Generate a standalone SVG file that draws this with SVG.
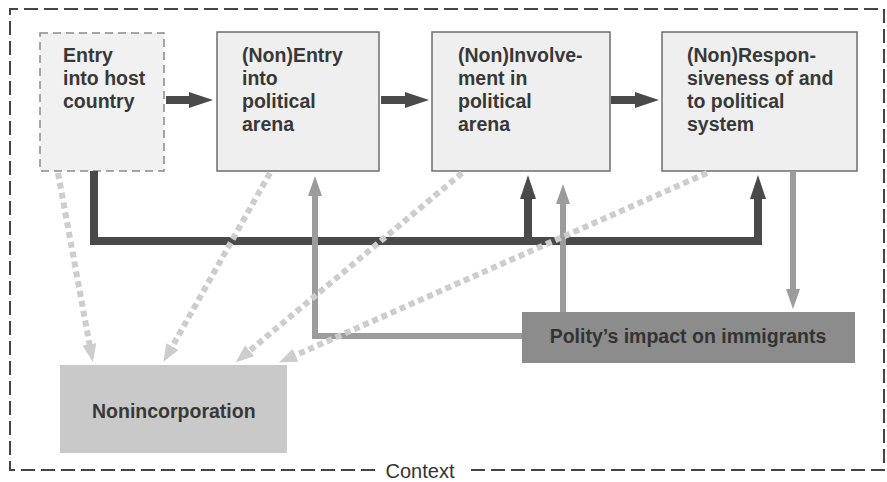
<svg xmlns="http://www.w3.org/2000/svg" width="887" height="482" viewBox="0 0 887 482">
<style>
.box{fill:#efefef;stroke:#6e6e6e;stroke-width:1.5}
.dbox{fill:#f1f1f1;stroke:#8a8a8a;stroke-width:1.5;stroke-dasharray:8 5}
.t{font-family:"Liberation Sans",Arial,sans-serif;font-weight:bold;font-size:19.5px;fill:#383838}
.ctx{font-family:"Liberation Sans",Arial,sans-serif;font-size:20px;fill:#333}
.dark{fill:none;stroke:#4a4a4a;stroke-width:8}
.mid{fill:none;stroke:#9c9c9c;stroke-width:6}
.light{fill:none;stroke:#cdcdcd;stroke-width:6;stroke-dasharray:6 4}
</style>
<defs>
<marker id="aDark" viewBox="0 0 24 16" markerWidth="24" markerHeight="16" refX="1" refY="8" orient="auto" markerUnits="userSpaceOnUse"><path d="M0,0 L24,8 L0,16 Z" fill="#4a4a4a"/></marker>
<marker id="aMid" viewBox="0 0 20 14" markerWidth="20" markerHeight="14" refX="1" refY="7" orient="auto" markerUnits="userSpaceOnUse"><path d="M0,0 L20,7 L0,14 Z" fill="#9c9c9c"/></marker>
<marker id="aLight" viewBox="0 0 18 14" markerWidth="18" markerHeight="14" refX="1" refY="7" orient="auto" markerUnits="userSpaceOnUse"><path d="M0,0 L18,7 L0,14 Z" fill="#cdcdcd"/></marker>
</defs>
<rect width="887" height="482" fill="#fff"/>
<g id="context">
<path d="M375,470 H10 V9 H884 V470 H465" fill="none" stroke="#444" stroke-width="2" stroke-dasharray="14 6"/>
<text class="ctx" x="420" y="478" text-anchor="middle">Context</text>
</g>
<g id="entry-host">
<rect class="dbox" x="40" y="33" width="124" height="138"/>
<text class="t" x="63" y="62">Entry</text>
<text class="t" x="63" y="85">into host</text>
<text class="t" x="63" y="108">country</text>
</g>
<g id="entry-political">
<rect class="box" x="217" y="32" width="162" height="139"/>
<text class="t" x="242" y="62">(Non)Entry</text>
<text class="t" x="242" y="85">into</text>
<text class="t" x="242" y="108">political</text>
<text class="t" x="242" y="131">arena</text>
</g>
<g id="involvement">
<rect class="box" x="432" y="32" width="178" height="139"/>
<text class="t" x="458" y="62">(Non)Involve-</text>
<text class="t" x="458" y="85">ment in</text>
<text class="t" x="458" y="108">political</text>
<text class="t" x="458" y="131">arena</text>
</g>
<g id="responsiveness">
<rect class="box" x="662" y="32" width="195" height="139"/>
<text class="t" x="687" y="62">(Non)Respon-</text>
<text class="t" x="687" y="85">siveness of and</text>
<text class="t" x="687" y="108">to political</text>
<text class="t" x="687" y="131">system</text>
</g>
<g id="polity">
<rect x="522" y="312" width="333" height="51" fill="#8c8c8c"/>
<text class="t" x="688" y="343" text-anchor="middle" style="fill:#333">Polity’s impact on immigrants</text>
</g>
<g id="nonincorporation">
<rect x="60" y="365" width="227" height="88" fill="#c9c9c9"/>
<text class="t" x="92" y="418">Nonincorporation</text>
</g>
<g id="connectors">
<path class="dark" d="M166,100 H190" marker-end="url(#aDark)"/>
<path class="dark" d="M381,100 H406" marker-end="url(#aDark)"/>
<path class="dark" d="M611,100 H636" marker-end="url(#aDark)"/>
<path class="dark" d="M94,171 V241 H758 V198" marker-end="url(#aDark)" style="stroke-width:8"/>
<path class="dark" d="M528,241 V198" marker-end="url(#aDark)"/>
<path class="mid" d="M522,336 H315 V195" marker-end="url(#aMid)"/>
<path class="mid" d="M563,312 V203" marker-end="url(#aMid)"/>
<path class="mid" d="M793,171 V290" marker-end="url(#aMid)"/>
<path class="light" d="M58,173 L89.7,345.3" marker-end="url(#aLight)"/>
<path class="light" d="M270,173 L171.8,347.3" marker-end="url(#aLight)"/>
<path class="light" d="M462,173 L248.8,351.4" marker-end="url(#aLight)"/>
<path class="light" d="M707,173 L294.5,355.7" marker-end="url(#aLight)"/>
</g>
</svg>
